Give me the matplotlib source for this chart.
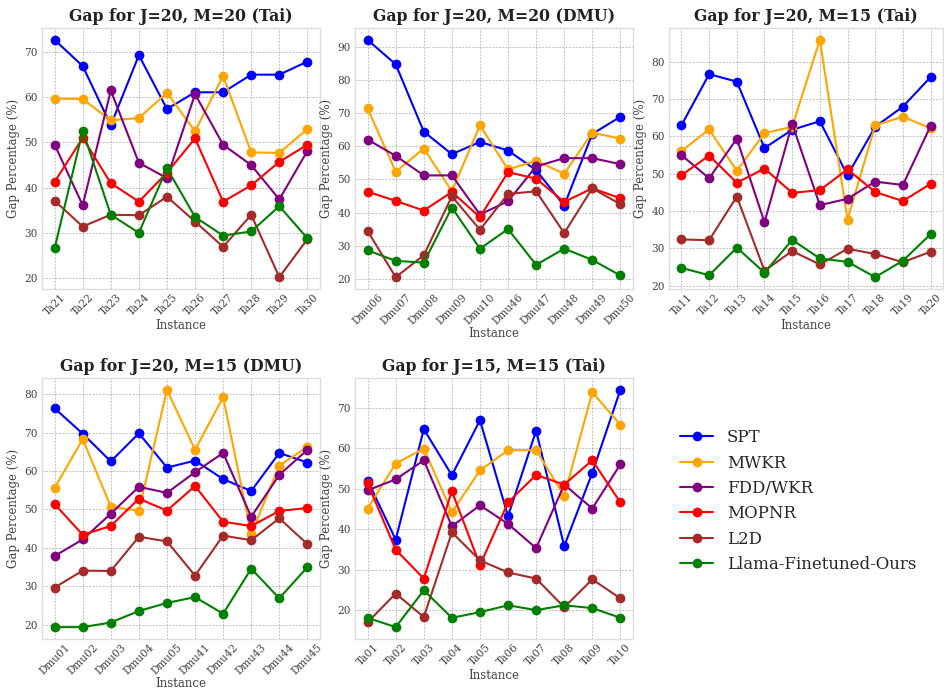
import matplotlib
matplotlib.use("Agg")
import matplotlib.pyplot as plt

methods = ["SPT", "MWKR", "FDD/WKR", "MOPNR", "L2D", "Llama-Finetuned-Ours"]
colors = ["blue", "orange", "purple", "red", "brown", "green"]

titles = ["Gap for J=20, M=20 (Tai)", "Gap for J=20, M=20 (DMU)", "Gap for J=20, M=15 (Tai)",
          "Gap for J=20, M=15 (DMU)", "Gap for J=15, M=15 (Tai)"]

inst_tai_20_20 = ["Ta21", "Ta22", "Ta23", "Ta24", "Ta25", "Ta26", "Ta27", "Ta28", "Ta29", "Ta30"]
tai_20_20 = {
    "SPT": [72.7, 66.9, 53.8, 69.3, 57.4, 61.1, 61.1, 65.0, 65.0, 67.9],
    "MWKR": [59.7, 59.6, 54.9, 55.4, 61.0, 52.5, 64.7, 47.8, 47.7, 53.0],
    "FDD/WKR": [49.5, 36.1, 61.5, 45.5, 42.1, 60.7, 49.5, 45.0, 37.4, 48.1],
    "MOPNR": [41.3, 51.0, 41.0, 36.9, 43.3, 50.9, 36.9, 40.5, 45.7, 49.5],
    "L2D": [37.1, 31.4, 34.0, 33.9, 38.0, 32.5, 26.9, 34.0, 20.2, 28.6],
    "Llama-Finetuned-Ours": [26.6, 52.6, 34.0, 30.0, 44.3, 33.5, 29.4, 30.3, 35.9, 28.8],
}

inst_dmu_20_20 = ["Dmu06", "Dmu07", "Dmu08", "Dmu09", "Dmu10", "Dmu46", "Dmu47", "Dmu48", "Dmu49", "Dmu50"]
dmu_20_20 = {
    "SPT": [92.1, 84.7, 64.4, 57.6, 61.3, 58.7, 52.8, 42.1, 63.7, 68.9],
    "MWKR": [71.4, 52.3, 59.3, 46.4, 66.3, 53.0, 55.6, 51.7, 64.1, 62.3],
    "FDD/WKR": [62.0, 57.1, 51.2, 51.2, 39.4, 43.4, 53.9, 56.4, 56.4, 54.6],
    "MOPNR": [46.3, 43.5, 40.6, 46.2, 38.6, 52.2, 50.2, 43.2, 47.3, 44.3],
    "L2D": [34.4, 20.5, 27.1, 44.9, 34.8, 45.6, 46.4, 33.8, 47.3, 42.5],
    "Llama-Finetuned-Ours": [28.6, 25.4, 24.9, 41.5, 29.1, 35.0, 24.2, 29.1, 25.7, 21.0],
}

inst_tai_20_15 = ["Ta11", "Ta12", "Ta13", "Ta14", "Ta15", "Ta16", "Ta17", "Ta18", "Ta19", "Ta20"]
tai_20_15 = {
    "SPT": [63.0, 76.7, 74.7, 56.9, 61.8, 64.1, 49.6, 62.6, 68.0, 75.9],
    "MWKR": [56.1, 61.9, 50.8, 60.9, 62.6, 85.9, 37.7, 63.0, 65.3, 62.2],
    "FDD/WKR": [55.0, 48.8, 59.4, 37.0, 63.4, 41.6, 43.3, 47.9, 47.0, 62.8],
    "MOPNR": [49.6, 54.9, 47.6, 51.4, 44.9, 45.6, 51.2, 45.1, 42.7, 47.3],
    "L2D": [32.4, 32.2, 43.9, 24.0, 29.3, 25.7, 29.9, 28.5, 26.3, 29.1],
    "Llama-Finetuned-Ours": [24.8, 22.8, 30.2, 23.5, 32.3, 27.3, 26.4, 22.3, 26.7, 33.8],
}

inst_dmu_20_15 = ["Dmu01", "Dmu02", "Dmu03", "Dmu04", "Dmu05", "Dmu41", "Dmu42", "Dmu43", "Dmu44", "Dmu45"]
dmu_20_15 = {
    "SPT": [76.3, 69.7, 62.5, 69.8, 60.9, 62.7, 57.9, 54.8, 64.7, 62.2],
    "MWKR": [55.6, 68.3, 50.7, 49.7, 81.1, 65.5, 79.2, 43.6, 61.4, 66.3],
    "FDD/WKR": [37.9, 42.2, 48.9, 55.9, 54.3, 59.7, 64.7, 48.1, 59.0, 65.5],
    "MOPNR": [51.4, 43.4, 45.7, 52.8, 49.7, 56.1, 46.8, 45.7, 49.6, 50.4],
    "L2D": [29.7, 34.1, 34.0, 42.9, 41.7, 32.8, 43.2, 42.0, 47.7, 41.0],
    "Llama-Finetuned-Ours": [19.4, 19.4, 20.6, 23.6, 25.7, 27.2, 22.9, 34.6, 26.9, 35.0],
}

inst_tai_15_15 = ["Ta01", "Ta02", "Ta03", "Ta04", "Ta05", "Ta06", "Ta07", "Ta08", "Ta09", "Ta10"]
tai_15_15 = {
    "SPT": [52.0, 37.4, 64.7, 53.3, 66.9, 43.2, 64.3, 35.8, 53.9, 74.4],
    "MWKR": [45.1, 56.2, 59.9, 44.2, 54.5, 59.5, 59.5, 48.2, 73.8, 65.8],
    "FDD/WKR": [49.6, 52.3, 57.0, 40.7, 45.9, 41.3, 35.3, 51.0, 45.1, 56.0],
    "MOPNR": [51.3, 34.9, 27.8, 49.4, 31.1, 46.6, 53.4, 51.0, 57.0, 46.6],
    "L2D": [17.0, 24.1, 18.3, 39.2, 32.3, 29.3, 27.8, 20.7, 27.6, 22.9],
    "Llama-Finetuned-Ours": [18.1, 15.8, 24.9, 18.1, 19.5, 21.2, 20.0, 21.2, 20.5, 18.1],
}

panels = [(inst_tai_20_20, tai_20_20), (inst_dmu_20_20, dmu_20_20), (inst_tai_20_15, tai_20_15),
          (inst_dmu_20_15, dmu_20_15), (inst_tai_15_15, tai_15_15)]

plt.style.use("seaborn-v0_8-whitegrid")
plt.rcParams["font.family"] = ["DejaVu Serif"]

W, H = 944, 690
fig = plt.figure(figsize=(W / 100, H / 100), dpi=100)

# axes boxes in pixels: (left, top, right, bottom)
boxes = [(42, 28, 320, 289), (355, 28, 633, 289), (669, 28, 943, 289),
         (42, 378, 320, 639), (355, 378, 633, 639)]

handles = []
for i, (box, title, (inst, data)) in enumerate(zip(boxes, titles, panels)):
    l, t, r, b = box
    ax = fig.add_axes([l / W, 1 - b / H, (r - l) / W, (b - t) / H])
    for m, c in zip(methods, colors):
        h, = ax.plot(inst, data[m], marker="o", color=c, label=m, linewidth=1.5, markersize=6)
        if i == 0:
            handles.append(h)
    ax.set_title(title, fontsize=11.3, fontweight="bold", color="#222222", pad=5)
    ax.set_xlabel("Instance", fontsize=8.5, color="#444444", labelpad=1)
    ax.set_ylabel("Gap Percentage (%)", fontsize=8.5, color="#444444", labelpad=3)
    ax.tick_params(axis="x", rotation=45, labelsize=7.6, colors="#444444", pad=2)
    ax.tick_params(axis="y", labelsize=7.6, colors="#444444", pad=3)
    ax.grid(True, linestyle=(0, (2.5, 1.5)), color="gray", alpha=0.55, linewidth=0.6)
    for s in ax.spines.values():
        s.set_visible(True)
        s.set_color("#dddddd")

fig.legend(handles, methods, loc="center", fontsize=12, frameon=False, handlelength=2.0,
           bbox_to_anchor=(798 / W, 1 - 501 / H), bbox_transform=fig.transFigure)

fig.savefig("out.png", dpi=100)
